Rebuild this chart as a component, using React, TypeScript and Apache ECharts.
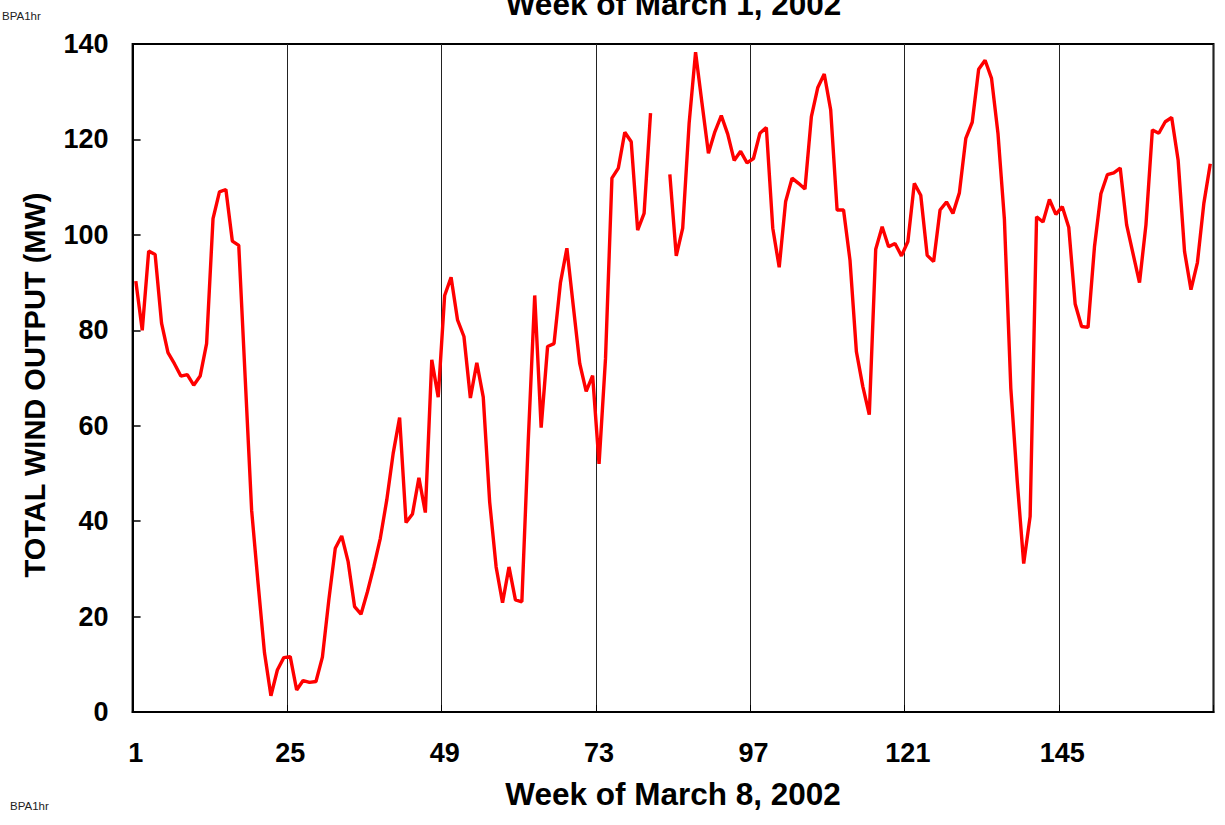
import React, { useEffect, useRef } from "react";
import * as echarts from "echarts";

const hours: string[] = Array.from({ length: 168 }, (_, i) => String(i + 1));

const windOutput: (number | null)[] = [
  90.3, 80.0, 96.6, 95.9, 81.5, 75.3, 73.0, 70.4, 70.7, 68.5,
  70.4, 77.2, 103.4, 109.0, 109.5, 98.7, 97.8, 70.0, 42.3, 27.0,
  12.4, 3.4, 8.8, 11.4, 11.6, 4.6, 6.6, 6.2, 6.4, 11.5,
  23.5, 34.3, 36.9, 31.5, 22.1, 20.5, 25.2, 30.5, 36.4, 44.4,
  54.2, 61.7, 39.7, 41.5, 49.1, 41.8, 73.8, 66.0, 87.3, 91.1,
  82.2, 78.7, 65.8, 73.2, 66.0, 44.0, 30.4, 22.9, 30.4, 23.5,
  23.1, 57.0, 87.3, 59.6, 76.6, 77.2, 90.0, 97.2, 85.0, 73.0,
  67.2, 70.5, 52.0, 74.0, 111.9, 114.0, 121.5, 119.5, 101.0, 104.5,
  125.5, null, null, 112.7, 95.6, 101.4, 123.4, 138.3, 127.6, 117.1,
  121.6, 125.0, 121.1, 115.6, 117.5, 115.1, 116.0, 121.3, 122.5, 101.4,
  93.2, 107.0, 111.9, 110.8, 109.6, 124.8, 130.9, 133.7, 126.2, 105.2,
  105.2, 94.7, 75.5, 68.2, 62.3, 97.0, 101.7, 97.5, 98.2, 95.6,
  98.6, 110.8, 108.3, 95.7, 94.4, 105.2, 106.9, 104.5, 108.8, 120.2,
  123.6, 134.7, 136.6, 132.8, 121.3, 103.3, 67.8, 48.3, 31.1, 41.0,
  103.8, 102.7, 107.4, 104.3, 105.9, 101.6, 85.5, 80.8, 80.6, 97.5,
  108.6, 112.6, 113.0, 114.0, 102.1, 96.0, 90.0, 102.1, 122.0, 121.3,
  123.7, 124.6, 115.7, 96.5, 88.5, 94.2, 106.6, 114.9,
];

const yMin = 0;
const yMax = 140;
const yStep = 20;
const labelEvery = 24;

const topTitle = "Week of March 1, 2002";
const xTitle = "Week of March 8, 2002";
const yTitle = "TOTAL WIND OUTPUT (MW)";
const sourceTag = "BPA1hr";

const FONT = "'Liberation Sans', Arial, Helvetica, sans-serif";

export default function App() {
  const ref = useRef<HTMLDivElement>(null);

  useEffect(() => {
    if (!ref.current) return;
    const chart = echarts.init(ref.current, null, { renderer: "svg" });
    chart.setOption({
      animation: false,
      backgroundColor: "#ffffff",
      textStyle: { fontFamily: FONT },
      grid: {
        left: 132.6,
        right: 11.5,
        top: 44,
        bottom: 113,
        show: true,
        borderColor: "#000",
        borderWidth: 2,
        backgroundColor: "transparent",
        outerBoundsMode: "none",
      } as any,
      xAxis: {
        type: "category",
        data: hours,
        boundaryGap: true,
        name: xTitle,
        nameLocation: "middle",
        nameGap: 66,
        nameTextStyle: { fontSize: 31.5, fontWeight: "bold", color: "#000", fontFamily: FONT },
        axisLine: { show: true, lineStyle: { color: "#000", width: 2 } },
        axisTick: { show: true, inside: true, length: 7, interval: labelEvery - 1, lineStyle: { color: "#000", width: 1 } },
        axisLabel: {
          interval: labelEvery - 1,
          fontSize: 27,
          fontWeight: "bold",
          color: "#000",
          fontFamily: FONT,
          margin: 27,
        },
        splitLine: { show: true, interval: labelEvery - 1, lineStyle: { color: "#222", width: 1 } },
      },
      yAxis: {
        type: "value",
        min: yMin,
        max: yMax,
        interval: yStep,
        axisLine: { show: true, lineStyle: { color: "#000", width: 2 } },
        axisTick: { show: true, inside: true, length: 8, lineStyle: { color: "#000", width: 1.5 } },
        axisLabel: {
          fontSize: 27,
          fontWeight: "bold",
          color: "#000",
          fontFamily: FONT,
          margin: 24,
        },
        splitLine: { show: false },
      },
      graphic: [
        {
          type: "text",
          x: 35,
          y: 385,
          rotation: Math.PI / 2,
          style: {
            text: yTitle,
            fontSize: 29,
            fontWeight: "bold",
            fill: "#000",
            fontFamily: FONT,
            textAlign: "center",
            textVerticalAlign: "middle",
          },
        },
        {
          type: "text",
          left: 2,
          top: 10,
          style: { text: sourceTag, fontSize: 11.5, fill: "#222", fontFamily: FONT },
        },
        {
          type: "text",
          left: 10,
          top: 800,
          style: { text: sourceTag, fontSize: 11.5, fill: "#222", fontFamily: FONT },
        },
        {
          type: "text",
          x: 673.5,
          y: 20,
          style: {
            text: topTitle,
            fontSize: 31.5,
            fontWeight: "bold",
            fill: "#000",
            fontFamily: FONT,
            textAlign: "center",
            textVerticalAlign: "bottom",
          },
        },
      ],
      series: [
        {
          type: "line",
          data: windOutput,
          showSymbol: false,
          connectNulls: false,
          lineStyle: { color: "#ff0000", width: 3.4 },
          itemStyle: { color: "#ff0000" },
          z: 3,
        },
      ],
    });
    return () => chart.dispose();
  }, []);

  return (
    <div
      ref={ref}
      style={{ position: "absolute", left: 0, top: 0, width: 1225, height: 825 }}
    />
  );
}
